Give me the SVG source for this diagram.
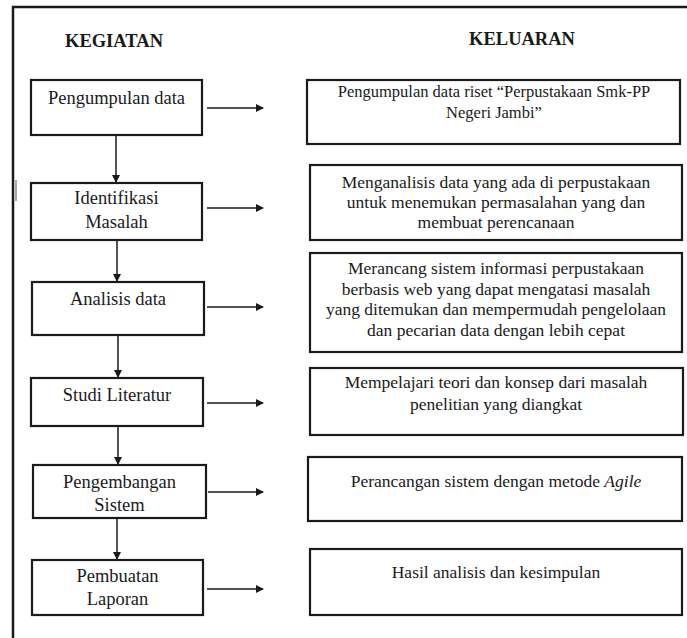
<svg xmlns="http://www.w3.org/2000/svg" width="687" height="638" viewBox="0 0 687 638">
<style>
  .box { fill: #ffffff; stroke: #1a1a1a; stroke-width: 2.2; }
  .t { fill: #1a1a1a; text-anchor: middle; }
  .l { font-size: 18.5px; }
  .r { font-size: 17.5px; }
  .h { font-size: 18.5px; font-weight: bold; }
  .c { stroke: #1a1a1a; stroke-width: 1.5; fill: none; marker-end: url(#ah); }
</style>
<defs>
  <marker id="ah" markerWidth="8" markerHeight="8" refX="7" refY="4" orient="auto" markerUnits="userSpaceOnUse">
    <path d="M0,0 L8,4 L0,8 Z" fill="#1a1a1a"/>
  </marker>
</defs>
<rect x="0" y="0" width="687" height="638" fill="#ffffff"/>
<g id="frame">
  <path d="M13,638 L13,7 L687,7" fill="none" stroke="#1a1a1a" stroke-width="2.5"/>
  <line x1="16" y1="180" x2="16" y2="201" stroke="#888888" stroke-width="1.5"/>
</g>
<g font-family="Liberation Serif, Times New Roman, DejaVu Serif, serif">
<g id="headers">
  <text class="t h" x="114" y="47">KEGIATAN</text>
  <text class="t h" x="522" y="45">KELUARAN</text>
</g>
<g id="k1"><rect class="box" x="31" y="80" width="171" height="55"/><text class="t l" x="116.5" y="104">Pengumpulan data</text></g>
<g id="k2"><rect class="box" x="31" y="183" width="171" height="57"/><text class="t l" x="116.5" y="204">Identifikasi</text><text class="t l" x="116.5" y="228">Masalah</text></g>
<g id="k3"><rect class="box" x="32" y="282" width="172" height="53"/><text class="t l" x="118" y="305">Analisis data</text></g>
<g id="k4"><rect class="box" x="31" y="378" width="172" height="48"/><text class="t l" x="117" y="401">Studi Literatur</text></g>
<g id="k5"><rect class="box" x="33" y="465" width="173" height="53"/><text class="t l" x="119.5" y="488">Pengembangan</text><text class="t l" x="119.5" y="511">Sistem</text></g>
<g id="k6"><rect class="box" x="32" y="560" width="171" height="55"/><text class="t l" x="117.5" y="582">Pembuatan</text><text class="t l" x="117.5" y="605">Laporan</text></g>
<g id="o1"><rect class="box" x="307" y="80" width="373" height="64"/><text class="t" font-size="16.5" x="494" y="97">Pengumpulan data riset “Perpustakaan Smk-PP</text><text class="t" font-size="16.5" x="494" y="118">Negeri Jambi”</text></g>
<g id="o2"><rect class="box" x="310" y="165" width="372" height="75"/><text class="t r" x="496" y="188">Menganalisis data yang ada di perpustakaan</text><text class="t r" x="496" y="208">untuk menemukan permasalahan yang dan</text><text class="t r" x="496" y="228">membuat perencanaan</text></g>
<g id="o3"><rect class="box" x="310" y="253" width="372" height="99"/><text class="t r" x="496" y="274">Merancang sistem informasi perpustakaan</text><text class="t r" x="496" y="295">berbasis web yang dapat mengatasi masalah</text><text class="t r" x="496" y="315">yang ditemukan dan mempermudah pengelolaan</text><text class="t r" x="496" y="336">dan pecarian data dengan lebih cepat</text></g>
<g id="o4"><rect class="box" x="310" y="368" width="373" height="67"/><text class="t r" x="496" y="388">Mempelajari teori dan konsep dari masalah</text><text class="t r" x="496" y="410">penelitian yang diangkat</text></g>
<g id="o5"><rect class="box" x="308" y="457" width="374" height="64"/><text class="t r" x="496" y="487">Perancangan sistem dengan metode <tspan font-style="italic">Agile</tspan></text></g>
<g id="o6"><rect class="box" x="310" y="549" width="372" height="66"/><text class="t r" x="496" y="578">Hasil analisis dan kesimpulan</text></g>
</g>
<g id="connectors">
  <line class="c" x1="116" y1="136" x2="116" y2="182"/>
  <line class="c" x1="117" y1="241" x2="117" y2="281"/>
  <line class="c" x1="118" y1="336" x2="118" y2="377"/>
  <line class="c" x1="118" y1="427" x2="118" y2="464"/>
  <line class="c" x1="117" y1="519" x2="117" y2="559"/>
  <line class="c" x1="207" y1="108" x2="263" y2="108"/>
  <line class="c" x1="207" y1="208" x2="263" y2="208"/>
  <line class="c" x1="207" y1="307" x2="263" y2="307"/>
  <line class="c" x1="207" y1="403" x2="263" y2="403"/>
  <line class="c" x1="208" y1="492" x2="263" y2="492"/>
  <line class="c" x1="207" y1="589" x2="263" y2="589"/>
</g>
</svg>
